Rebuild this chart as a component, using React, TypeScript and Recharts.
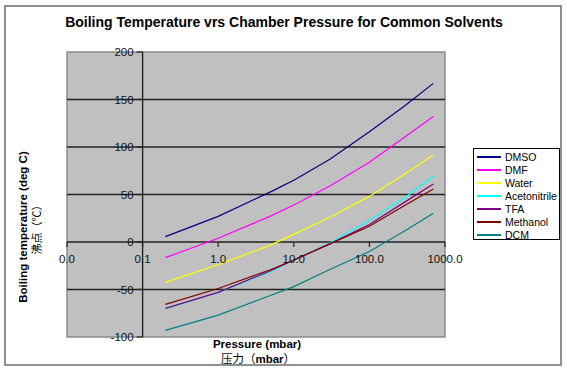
import React from 'react';
import { LineChart, Line, XAxis, YAxis, ReferenceArea, ReferenceLine, ReferenceDot, Legend } from 'recharts';

// pressure in mbar, boiling temperature in deg C
const pressure = [0.2, 1, 5, 10, 30, 100, 300, 700];
const dmso = [5.6, 27, 53, 65, 87, 116, 144, 167];
const dmf = [-16.5, 4, 27.5, 39, 59, 84, 111, 132];
const water = [-42.5, -24, -3, 8, 26, 48, 72, 91.6];
const acetonitrile = [-70.5, -53, -31, -19, -1, 23, 47, 69.5];
const tfa = [-69.8, -53, -30, -19, -2, 18.5, 42.5, 61];
const methanol = [-65.6, -49, -29, -19, -2, 16.5, 39, 55.8];
const dcm = [-93, -77, -56, -47, -29, -10, 12, 30.2];

const xTicks = [0.01, 0.1, 1, 10, 100, 1000];
const yTicks = [-100, -50, 0, 50, 100, 150, 200];
const gridValues = [-50, 0, 50, 100, 150];

const FONT = '"Liberation Sans", Arial, sans-serif';

const series = [
  { key: 'dmso', name: 'DMSO', color: '#000080', values: dmso },
  { key: 'dmf', name: 'DMF', color: '#FF00FF', values: dmf },
  { key: 'water', name: 'Water', color: '#FFFF00', values: water },
  { key: 'acn', name: 'Acetonitrile', color: '#00FFFF', values: acetonitrile },
  { key: 'tfa', name: 'TFA', color: '#800080', values: tfa },
  { key: 'meoh', name: 'Methanol', color: '#800000', values: methanol },
  { key: 'dcm', name: 'DCM', color: '#008080', values: dcm },
];

const rows = pressure.map((p, i) => {
  const row: Record<string, number> = { p };
  series.forEach((s) => {
    row[s.key] = s.values[i];
  });
  return row;
});

// tick mark + label drawn at the point the library puts the reference dot
const YTickLabel = (props: any) => {
  const vb = props.viewBox || {};
  const x = vb.x + (vb.width || 0) / 2;
  const y = vb.y + (vb.height || 0) / 2;
  return (
    <g>
      <line x1={x - 6} y1={y} x2={x} y2={y} stroke="#222" strokeWidth={1.2} />
      <text x={x - 9} y={y} textAnchor="end" dominantBaseline="central" fontSize={11.5} fill="#111" fontFamily={FONT}>
        {props.text}
      </text>
    </g>
  );
};

const XTickLabel = (props: any) => {
  const vb = props.viewBox || {};
  const x = vb.x + (vb.width || 0) / 2;
  const y = vb.y + (vb.height || 0) / 2;
  return (
    <g>
      <line x1={x} y1={y} x2={x} y2={y + 5} stroke="#222" strokeWidth={1.2} />
      <text x={x} y={y + 17} textAnchor="middle" dominantBaseline="central" fontSize={11.5} fill="#111" fontFamily={FONT}>
        {props.text}
      </text>
    </g>
  );
};

const LegendBox = () => (
  <div
    style={{
      border: '1px solid #000',
      background: '#fff',
      width: 87,
      height: 92,
      boxSizing: 'border-box',
      padding: '1px 0 0 3px',
      fontFamily: FONT,
      fontSize: 10.5,
      color: '#000',
    }}
  >
    {series.map((s) => (
      <div key={s.key} style={{ display: 'flex', alignItems: 'center', height: 13.1, whiteSpace: 'nowrap' }}>
        <span style={{ display: 'inline-block', width: 24, height: 2, background: s.color, marginRight: 4 }} />
        {s.name}
      </div>
    ))}
  </div>
);

export default function App() {
  return (
    <div style={{ position: 'absolute', left: 0, top: 0, width: 567, height: 373, background: '#fff' }}>
      <div
        style={{
          position: 'absolute',
          left: 4,
          top: 5,
          width: 558,
          height: 361,
          border: '2px solid #909090',
          boxSizing: 'border-box',
        }}
      />
      <div style={{ position: 'absolute', left: 0, top: 0 }}>
        <LineChart width={567} height={373} data={rows} margin={{ top: 52, right: 122, bottom: 36, left: 67 }}>
          <XAxis dataKey="p" type="number" scale="log" domain={[0.01, 1000]} allowDataOverflow hide />
          <YAxis type="number" domain={[-100, 200]} allowDataOverflow hide />
          <ReferenceArea x1={0.01} x2={1000} y1={-100} y2={200} fill="#C0C0C0" fillOpacity={1} stroke="#8a8a8a" strokeWidth={1.5} ifOverflow="visible" />
          {gridValues.map((v) => (
            <ReferenceLine key={'g' + v} y={v} stroke="#222" strokeWidth={1.4} ifOverflow="visible" />
          ))}
          <ReferenceLine x={0.1} stroke="#222" strokeWidth={1.4} ifOverflow="visible" />
          {series.map((s) => (
            <Line
              key={s.key}
              type="linear"
              dataKey={s.key}
              name={s.name}
              stroke={s.color}
              strokeWidth={1.2}
              dot={false}
              activeDot={false}
              isAnimationActive={false}
            />
          ))}
          {yTicks.map((v) => (
            <ReferenceDot key={'y' + v} x={0.1} y={v} r={0} fill="none" stroke="none" ifOverflow="visible" label={<YTickLabel text={String(v)} />} />
          ))}
          {xTicks.map((v) => (
            <ReferenceDot key={'x' + v} x={v} y={0} r={0} fill="none" stroke="none" ifOverflow="visible" label={<XTickLabel text={v.toFixed(1)} />} />
          ))}
          <Legend
            layout="vertical"
            align="center"
            verticalAlign="middle"
            content={<LegendBox />}
            wrapperStyle={{ position: 'absolute', left: 473, top: 148, width: 87, height: 92 }}
          />
        </LineChart>
      </div>
      <svg width={567} height={373} style={{ position: 'absolute', left: 0, top: 0, pointerEvents: 'none' }}>
        <text x={284} y={27} textAnchor="middle" fontFamily={FONT} fontWeight="bold" fontSize={14} fill="#000">
          Boiling Temperature vrs Chamber Pressure for Common Solvents
        </text>
        <text x={257} y={348} textAnchor="middle" fontFamily={FONT} fontWeight="bold" fontSize={11.5} fill="#000">
          Pressure (mbar)
        </text>
        <text x={258} y={363} textAnchor="middle" fontFamily={FONT} fontSize={11.5} fill="#000">
          <tspan fontFamily='"Noto Sans CJK SC"'>压力（</tspan>
          <tspan fontWeight="bold">mbar</tspan>
          <tspan fontFamily='"Noto Sans CJK SC"'>）</tspan>
        </text>
        <text transform="translate(27,227) rotate(-90)" textAnchor="middle" fontFamily={FONT} fontWeight="bold" fontSize={11.5} fill="#000">
          Boiling temperature (deg C)
        </text>
        <text transform="translate(41,227) rotate(-90)" textAnchor="middle" fontFamily='"Noto Sans CJK SC"' fontSize={11} fill="#000">
          沸点（℃）
        </text>
      </svg>
    </div>
  );
}
